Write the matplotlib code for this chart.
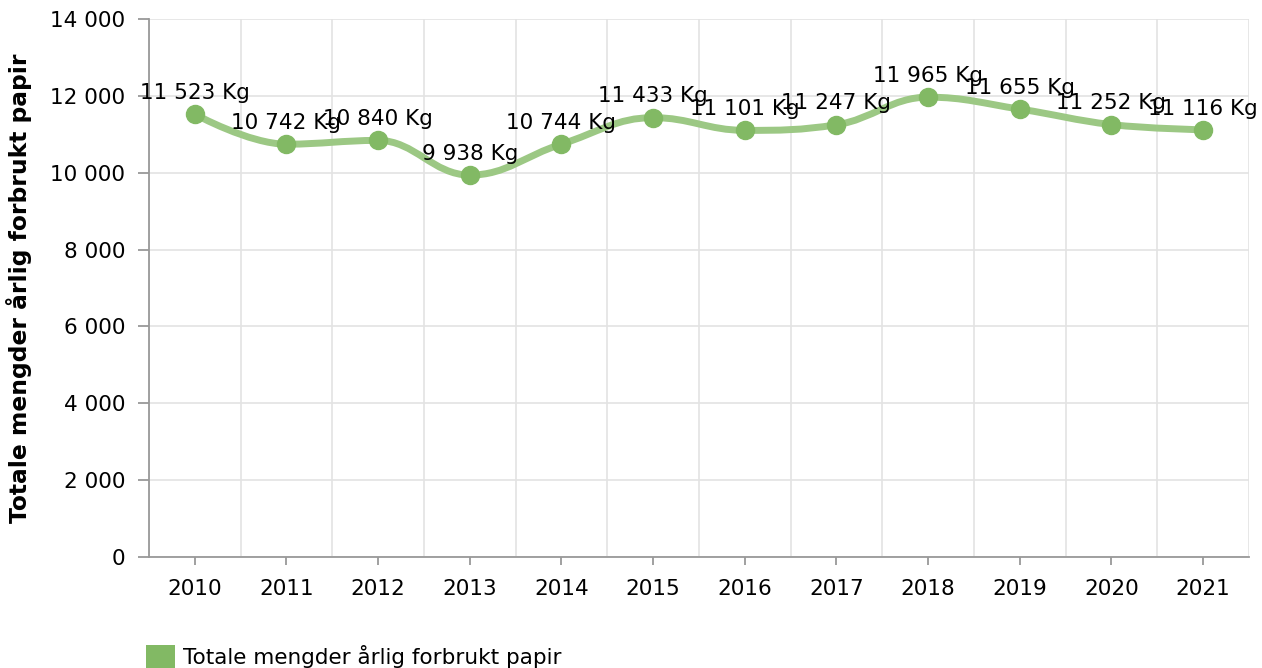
import numpy as np
import matplotlib
matplotlib.use("Agg")
import matplotlib.pyplot as plt
from matplotlib.path import Path
from matplotlib.patches import PathPatch, Patch

years = ["2010", "2011", "2012", "2013", "2014", "2015",
         "2016", "2017", "2018", "2019", "2020", "2021"]
paper_kg = [11523, 10742, 10840, 9938, 10744, 11433,
            11101, 11247, 11965, 11655, 11252, 11116]
y_ticks = [0, 2000, 4000, 6000, 8000, 10000, 12000, 14000]
series_name = "Totale mengder årlig forbrukt papir"

LINE = "#9cc884"
MARK = "#82b964"
GRID = "#e3e3e3"
AXIS = "#999999"


def fmt(v):
    return f"{v:,}".replace(",", " ")


def spline_path(xs, ys, smoothing=1.5):
    """Smooth bezier path through the points (Highcharts-like spline)."""
    denom = smoothing + 1
    n = len(xs)
    left = [None] * n
    right = [None] * n
    for i in range(n):
        if i == 0 or i == n - 1:
            left[i] = right[i] = (xs[i], ys[i])
            continue
        lx = (smoothing * xs[i] + xs[i - 1]) / denom
        ly = (smoothing * ys[i] + ys[i - 1]) / denom
        rx = (smoothing * xs[i] + xs[i + 1]) / denom
        ry = (smoothing * ys[i] + ys[i + 1]) / denom
        corr = (ry - ly) * (rx - xs[i]) / (rx - lx) + ys[i] - ry
        ly += corr
        ry += corr
        lo, hi = min(ys[i - 1], ys[i]), max(ys[i - 1], ys[i])
        if ly > hi:
            ly = hi
            ry = 2 * ys[i] - ly
        elif ly < lo:
            ly = lo
            ry = 2 * ys[i] - ly
        lo, hi = min(ys[i + 1], ys[i]), max(ys[i + 1], ys[i])
        if ry > hi:
            ry = hi
            ly = 2 * ys[i] - ry
        elif ry < lo:
            ry = lo
            ly = 2 * ys[i] - ry
        left[i] = (lx, ly)
        right[i] = (rx, ry)
    verts = [(xs[0], ys[0])]
    codes = [Path.MOVETO]
    for i in range(1, n):
        verts += [right[i - 1], left[i], (xs[i], ys[i])]
        codes += [Path.CURVE4] * 3
    return Path(verts, codes)


fig = plt.figure(figsize=(12.62, 6.68), dpi=100)
ax = fig.add_axes([0.118, 0.1662, 0.8717, 0.8054])

x = np.arange(len(years))
ax.set_xlim(-0.5, len(years) - 0.5)
ax.set_ylim(0, 14000)

# grid: horizontal at values, vertical at category boundaries
ax.set_yticks(y_ticks)
ax.set_yticklabels([fmt(v) for v in y_ticks])
ax.set_xticks(x)
ax.set_xticklabels(years)
ax.set_xticks(np.arange(len(years) + 1) - 0.5, minor=True)
ax.grid(True, axis="y", which="major", color=GRID, lw=1.2)
ax.grid(True, axis="x", which="minor", color=GRID, lw=1.2)
ax.set_axisbelow(True)

for s in ["top", "right"]:
    ax.spines[s].set_visible(False)
for s in ["left", "bottom"]:
    ax.spines[s].set_color(AXIS)
    ax.spines[s].set_linewidth(1.3)

ax.tick_params(axis="x", which="major", length=6, color=AXIS, width=1.3,
               labelsize=15.5, pad=10)
ax.tick_params(axis="x", which="minor", length=0)
ax.tick_params(axis="y", length=8, color=AXIS, width=1.3, labelsize=15.5, pad=9)

ax.set_ylabel(series_name, fontsize=16.8, fontweight="bold", labelpad=13)

path = spline_path(list(x.astype(float)), [float(v) for v in paper_kg])
ax.add_patch(PathPatch(path, facecolor="none", edgecolor=LINE, lw=5,
                       capstyle="round", joinstyle="round", zorder=3))
ax.plot(x, paper_kg, "o", color=MARK, ms=13, zorder=4, clip_on=False)

for xi, v in zip(x, paper_kg):
    ax.annotate(f"{fmt(v)} Kg", (xi, v), xytext=(0, 11), textcoords="offset points",
                ha="center", va="baseline", fontsize=15.5, zorder=5)

fig.legend(handles=[Patch(facecolor=MARK, edgecolor="none", label=series_name)],
           loc="lower left", bbox_to_anchor=(0.1, -0.03), frameon=False,
           fontsize=15.5, handlelength=1.35, handleheight=1.3, handletextpad=0.4)

fig.savefig("out.png", dpi=100)
